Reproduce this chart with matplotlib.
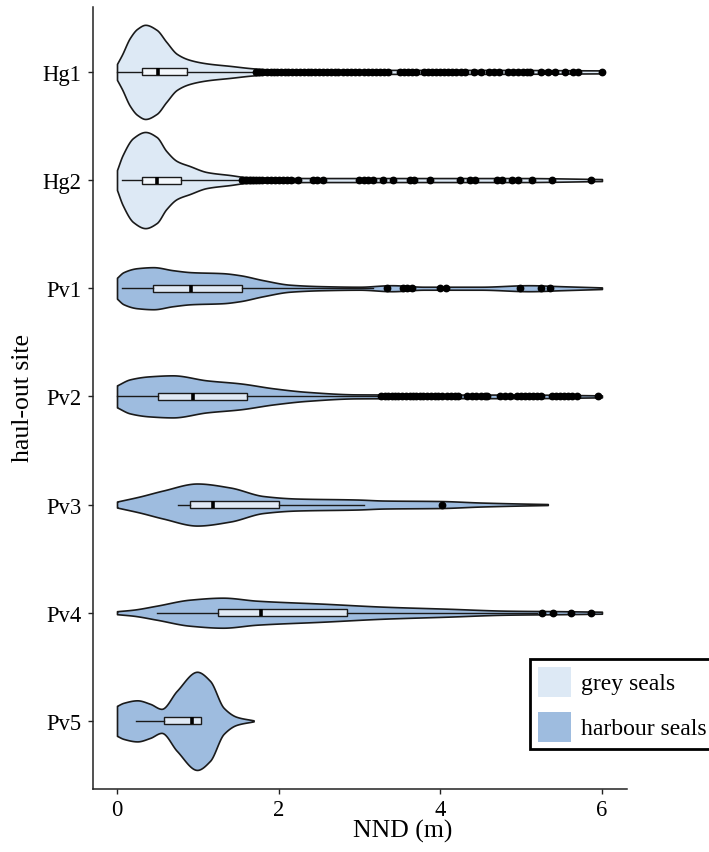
import numpy as np
import matplotlib
matplotlib.use('Agg')
import matplotlib.pyplot as plt
import matplotlib.patches as mpatches

plt.rcParams['font.family'] = 'Liberation Serif'

# sites, top to bottom
sites = ['Hg1', 'Hg2', 'Pv1', 'Pv2', 'Pv3', 'Pv4', 'Pv5']
species = ['grey', 'grey', 'harbour', 'harbour', 'harbour', 'harbour', 'harbour']

# violin outlines: NND (m) and half width (density, arbitrary units)
hg1_x = [0, 0.06, 0.16, 0.25, 0.35, 0.49, 0.61, 0.74, 0.9, 1.11, 1.4, 1.69, 1.9, 3.0, 4.5, 6.0]
hg1_w = [8, 17, 34, 43, 47, 42, 30, 18, 12, 8.5, 6, 3.5, 2.5, 2, 2, 1.5]
hg2_x = [0, 0.07, 0.2, 0.35, 0.49, 0.61, 0.74, 0.9, 1.11, 1.4, 1.6, 2.5, 3.5, 5.0, 6.0]
hg2_w = [10, 25, 42, 48, 43, 29, 19, 14, 8, 5, 3, 2, 2, 2, 1]
pv1_x = [0, 0.08, 0.25, 0.45, 0.69, 0.92, 1.31, 1.52, 1.81, 2.14, 2.55, 3.0, 3.4, 3.8, 4.5, 5.1, 5.5, 6.0]
pv1_w = [10.5, 16, 20, 21, 18, 16, 15, 13, 8, 3.5, 2, 1.5, 3, 1.5, 1.5, 3, 2, 0.8]
pv2_x = [0, 0.16, 0.4, 0.69, 1.11, 1.52, 1.94, 2.35, 2.97, 4.0, 5.0, 6.0]
pv2_w = [11, 17, 20, 21, 16, 13, 8, 4.5, 2, 1.8, 1.8, 1]
pv3_x = [0, 0.28, 0.57, 0.99, 1.4, 1.81, 2.22, 2.97, 3.3, 4.0, 4.5, 5.0, 5.33]
pv3_w = [3, 8, 14, 21, 17, 8.5, 6, 5, 4, 3.5, 2, 1, 0.5]
pv4_x = [0, 0.2, 0.49, 0.9, 1.31, 1.73, 2.55, 3.3, 4.08, 4.83, 5.5, 6.0]
pv4_w = [1.5, 3, 7, 13, 15, 12, 9, 6, 4, 2, 1.5, 1]
pv5_x = [0, 0.08, 0.25, 0.41, 0.55, 0.74, 0.99, 1.15, 1.32, 1.48, 1.69]
pv5_w = [15, 18, 20.5, 17, 12, 30, 49, 40, 13, 4, 0.5]

# box plot summaries
whis_lo = [0.0, 0.06, 0.06, 0.0, 0.75, 0.49, 0.24]
q1 = [0.31, 0.31, 0.45, 0.51, 0.90, 1.25, 0.58]
median = [0.51, 0.50, 0.92, 0.94, 1.19, 1.78, 0.93]
q3 = [0.87, 0.79, 1.55, 1.61, 2.0, 2.85, 1.04]
whis_hi = [1.70, 1.52, 3.17, 3.22, 3.05, 5.2, 1.04]

# outliers
hg1_out = [1.72, 1.76, 1.8, 1.85, 1.9, 1.94, 1.98, 2.03, 2.08, 2.12, 2.17, 2.22, 2.26,
           2.31, 2.36, 2.4, 2.45, 2.5, 2.55, 2.6, 2.65, 2.7, 2.74, 2.79, 2.84, 2.9,
           2.95, 3.0, 3.05, 3.1, 3.15, 3.2, 3.25, 3.3, 3.35, 3.5, 3.55, 3.6, 3.65,
           3.7, 3.8, 3.85, 3.9, 3.95, 4.0, 4.05, 4.1, 4.15, 4.2, 4.25, 4.3, 4.42,
           4.5, 4.6, 4.66, 4.73, 4.84, 4.9, 4.96, 5.02, 5.07, 5.11, 5.24, 5.33,
           5.42, 5.54, 5.64, 5.7, 6.0]
hg2_out = [1.55, 1.6, 1.64, 1.68, 1.72, 1.76, 1.8, 1.85, 1.9, 1.95, 2.0, 2.05, 2.1,
           2.15, 2.24, 2.42, 2.48, 2.55, 3.0, 3.05, 3.1, 3.17, 3.29, 3.42, 3.63,
           3.68, 3.87, 4.24, 4.37, 4.43, 4.7, 4.76, 4.89, 4.96, 5.14, 5.38, 5.87]
pv1_out = [3.34, 3.54, 3.59, 3.65, 4.0, 4.07, 4.99, 5.24, 5.36]
pv2_out = [3.27, 3.31, 3.35, 3.4, 3.44, 3.48, 3.53, 3.57, 3.62, 3.66, 3.7, 3.75,
           3.79, 3.84, 3.88, 3.93, 3.97, 4.02, 4.08, 4.13, 4.18, 4.22, 4.33, 4.39,
           4.44, 4.5, 4.55, 4.58, 4.74, 4.8, 4.86, 4.95, 5.0, 5.05, 5.1, 5.15, 5.2,
           5.24, 5.38, 5.43, 5.48, 5.53, 5.58, 5.63, 5.69, 5.95]
pv3_out = [4.02]
pv4_out = [5.26, 5.4, 5.62, 5.87]
pv5_out = []

profiles = [(hg1_x, hg1_w), (hg2_x, hg2_w), (pv1_x, pv1_w), (pv2_x, pv2_w),
            (pv3_x, pv3_w), (pv4_x, pv4_w), (pv5_x, pv5_w)]
outliers = [hg1_out, hg2_out, pv1_out, pv2_out, pv3_out, pv4_out, pv5_out]

colors = {'grey': '#dde9f5', 'harbour': '#9ebcdf'}
WIDTH_SCALE = 1 / 108  # density units -> category units


def smooth_outline(xs, ws, n=25):
    # monotone cubic hermite through the read-off points (no overshoot)
    xs = np.asarray(xs, float)
    ws = np.asarray(ws, float)
    h = np.diff(xs)
    d = np.diff(ws) / h
    m = np.zeros_like(ws)
    m[0], m[-1] = d[0], d[-1]
    for k in range(1, len(xs) - 1):
        if d[k - 1] * d[k] > 0:
            w1 = 2 * h[k] + h[k - 1]
            w2 = h[k] + 2 * h[k - 1]
            m[k] = (w1 + w2) / (w1 / d[k - 1] + w2 / d[k])
    gx, gw = [], []
    for k in range(len(xs) - 1):
        t = np.linspace(0, 1, n, endpoint=False)
        h00 = 2 * t**3 - 3 * t**2 + 1
        h10 = t**3 - 2 * t**2 + t
        h01 = -2 * t**3 + 3 * t**2
        h11 = t**3 - t**2
        gx.append(xs[k] + t * h[k])
        gw.append(h00 * ws[k] + h10 * h[k] * m[k] + h01 * ws[k + 1] + h11 * h[k] * m[k + 1])
    gx.append([xs[-1]])
    gw.append([ws[-1]])
    return np.concatenate(gx), np.concatenate(gw)


fig = plt.figure(figsize=(7.09, 8.53), dpi=100)
ax = fig.add_axes([93 / 709, 1 - 790 / 853, 534 / 709, 782 / 853])

for i, ((xs, ws), sp) in enumerate(zip(profiles, species)):
    gx, gw = smooth_outline(xs, ws)
    gw = gw * WIDTH_SCALE
    ax.fill_between(gx, i - gw, i + gw, facecolor=colors[sp],
                    edgecolor='#1a1a1a', linewidth=1.2, zorder=1)

stats = []
for i in range(len(sites)):
    stats.append({'whislo': whis_lo[i], 'q1': q1[i], 'med': median[i],
                  'q3': q3[i], 'whishi': whis_hi[i], 'fliers': outliers[i]})

ax.bxp(stats, positions=range(len(sites)), orientation='horizontal',
       widths=0.065, patch_artist=True, showcaps=False,
       boxprops=dict(facecolor=(1, 1, 1, 0.7), edgecolor='#1a1a1a', linewidth=1.0),
       whiskerprops=dict(color='#1a1a1a', linewidth=1.0),
       medianprops=dict(color='black', linewidth=2.6, solid_capstyle='butt'),
       flierprops=dict(marker='o', markerfacecolor='black', markeredgecolor='black',
                       markersize=4.6, linestyle='none'),
       manage_ticks=False, zorder=3)

ax.set_xlim(-0.297, 6.31)
ax.set_ylim(6.63, -0.6)
ax.set_xticks([0, 2, 4, 6])
ax.set_yticks(range(len(sites)))
ax.set_yticklabels(sites)

for side in ['top', 'right']:
    ax.spines[side].set_visible(False)
for side in ['left', 'bottom']:
    ax.spines[side].set_linewidth(1.1)
    ax.spines[side].set_color('#222222')
ax.tick_params(axis='both', direction='out', length=3.6, width=1.0,
               color='#222222', labelsize=16.3, labelcolor='black')
ax.tick_params(axis='y', pad=4.8)
ax.tick_params(axis='x', pad=3.6)

fig.text(403 / 709, 1 - 831 / 853, 'NND (m)', fontsize=18.5, ha='center', va='center')
fig.text(23 / 709, 1 - 398 / 853, 'haul-out site', fontsize=18.5, rotation=90,
         ha='center', va='center')

handles = [mpatches.Patch(facecolor=colors['grey'], edgecolor='none', label='grey seals'),
           mpatches.Patch(facecolor=colors['harbour'], edgecolor='none', label='harbour seals')]
leg = ax.legend(handles=handles, loc='upper left',
                bbox_to_anchor=(530 / 709, 1 - 660 / 853),
                bbox_transform=fig.transFigure, borderaxespad=0,
                fontsize=17, handlelength=1.4, handleheight=1.6,
                handletextpad=0.42, labelspacing=0.62, borderpad=0.32,
                fancybox=False, framealpha=1, edgecolor='black')
leg.get_frame().set_linewidth(2.0)

fig.savefig('out.png', dpi=100)
